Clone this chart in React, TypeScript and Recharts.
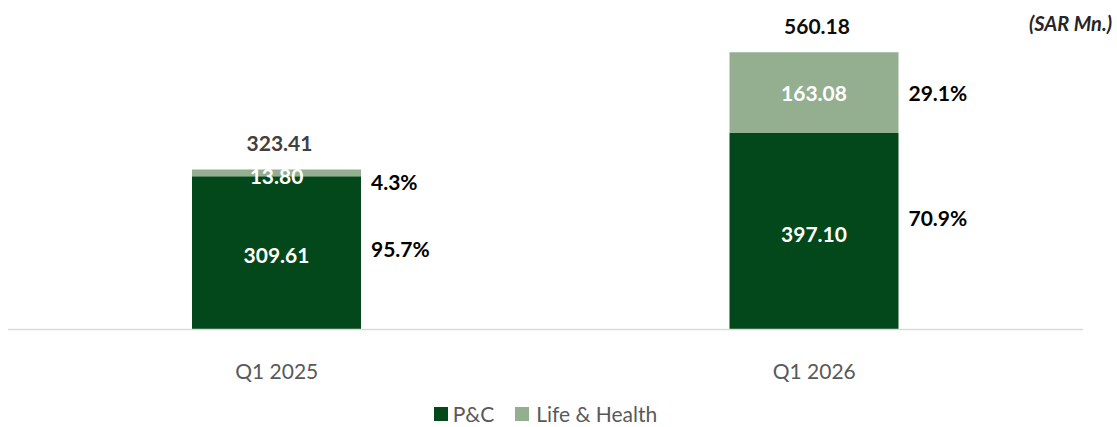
import React from 'react';
import { BarChart, Bar, XAxis, YAxis, LabelList, Legend } from 'recharts';

const categories = ['Q1 2025', 'Q1 2026'];
const pcValues = [309.61, 397.1];
const lhValues = [13.8, 163.08];
const totals = [323.41, 560.18];
const pcShares = ['95.7%', '70.9%'];
const lhShares = ['4.3%', '29.1%'];

const data = categories.map((c, i) => ({
  name: c,
  pc: pcValues[i],
  lh: lhValues[i],
  total: totals[i],
  pcShare: pcShares[i],
  lhShare: lhShares[i],
}));

const FONT = 'Lato, Carlito, Calibri, "Open Sans", sans-serif';
const DARK = '#03481A';
const LIGHT = '#93AF8F';

const pcShareNudge = [-4, -14];
const lhShareNudge = [9, 0];
const totalColors = ['#404040', '#0D0D0D'];

const fmt = (v: number) => v.toFixed(2);

const makeShareLabel = (arr: string[], nudge: number[]) => (props: any) => {
  const { x, y, width, height, index } = props;
  return (
    <text
      x={Number(x) + Number(width) + 10}
      y={Number(y) + Number(height) / 2 + nudge[index]}
      textAnchor="start"
      dominantBaseline="central"
      fontFamily={FONT}
      fontWeight={700}
      fontSize={21}
      fill="#000000"
    >
      {arr[index]}
    </text>
  );
};

const makeValueLabel = (arr: number[], dyArr: number[]) => (props: any) => {
  const { x, y, width, height, index } = props;
  return (
    <text
      x={Number(x) + Number(width) / 2}
      y={Number(y) + Number(height) / 2 + dyArr[index]}
      textAnchor="middle"
      dominantBaseline="central"
      fontFamily={FONT}
      fontWeight={700}
      fontSize={21}
      fill="#FFFFFF"
    >
      {fmt(arr[index])}
    </text>
  );
};

const TotalLabel = (props: any) => {
  const { x, y, width, index } = props;
  return (
    <text
      x={Number(x) + Number(width) / 2 + 3}
      y={Number(y) - 27}
      textAnchor="middle"
      dominantBaseline="central"
      fontFamily={FONT}
      fontWeight={700}
      fontSize={21}
      fill={totalColors[index]}
    >
      {fmt(totals[index])}
    </text>
  );
};

const Tick = (props: any) => {
  const { x, y, payload } = props;
  return (
    <text
      x={x}
      y={Number(y) + 32.5}
      textAnchor="middle"
      dominantBaseline="central"
      fontFamily={FONT}
      fontSize={21}
      fill="#595959"
    >
      {payload.value}
    </text>
  );
};

const LegendContent = () => (
  <div
    style={{
      display: 'flex',
      justifyContent: 'center',
      alignItems: 'center',
      height: 27,
      fontFamily: FONT,
      fontSize: 21,
      color: '#595959',
    }}
  >
    <span style={{ display: 'inline-flex', alignItems: 'center', marginRight: 21 }}>
      <span style={{ width: 14, height: 14, background: DARK, display: 'inline-block', marginRight: 5 }} />
      P&amp;C
    </span>
    <span style={{ display: 'inline-flex', alignItems: 'center' }}>
      <span style={{ width: 14, height: 14, background: LIGHT, display: 'inline-block', marginRight: 7 }} />
      Life &amp; Health
    </span>
  </div>
);

export default function App() {
  return (
    <div style={{ position: 'absolute', left: 0, top: 0, width: 1117, height: 427, background: '#fff' }}>
      <BarChart
        width={1117}
        height={427}
        data={data}
        margin={{ top: 32.5, right: 34, left: 8, bottom: 0 }}
        barCategoryGap={0}
      >
        <XAxis
          dataKey="name"
          axisLine={{ stroke: '#D9D9D9', strokeWidth: 1.5 }}
          tickLine={false}
          tick={<Tick />}
          height={70.5}
          interval={0}
        />
        <YAxis hide domain={[0, 600]} />
        <Legend verticalAlign="bottom" height={27} content={<LegendContent />} />
        <Bar dataKey="pc" stackId="a" fill={DARK} barSize={169} isAnimationActive={false}>
          <LabelList dataKey="pc" content={makeValueLabel(pcValues, [2, 2])} />
          <LabelList dataKey="pcShare" content={makeShareLabel(pcShares, pcShareNudge)} />
        </Bar>
        <Bar dataKey="lh" stackId="a" fill={LIGHT} barSize={169} isAnimationActive={false}>
          <LabelList dataKey="lh" content={makeValueLabel(lhValues, [3, 0])} />
          <LabelList dataKey="lhShare" content={makeShareLabel(lhShares, lhShareNudge)} />
          <LabelList dataKey="total" content={<TotalLabel />} />
        </Bar>
      </BarChart>
      <div
        style={{
          position: 'absolute',
          right: 5,
          top: 11,
          fontFamily: FONT,
          fontWeight: 700,
          fontStyle: 'italic',
          fontSize: 20,
          color: '#262626',
        }}
      >
        (SAR Mn.)
      </div>
    </div>
  );
}
